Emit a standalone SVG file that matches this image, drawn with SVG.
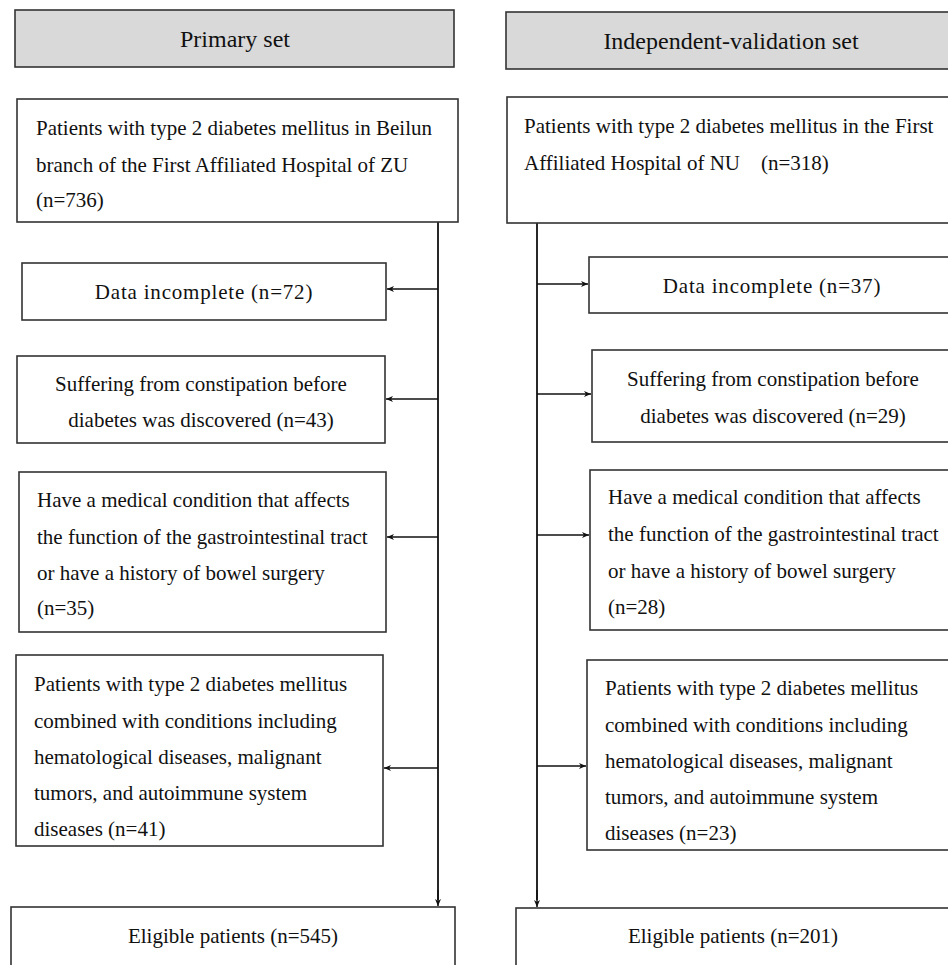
<svg xmlns="http://www.w3.org/2000/svg" width="948" height="965" viewBox="0 0 948 965">
<defs>
<marker id="ah" markerWidth="8" markerHeight="8" refX="7" refY="4" orient="auto" markerUnits="userSpaceOnUse">
<path d="M0,1 L7,4 L0,7 L2,4 Z" fill="#111"/>
</marker>
<style>
.hd{fill:#d9d9d9;stroke:#333;stroke-width:1.6}
.bx{fill:#fff;stroke:#333;stroke-width:1.6}
.t{font-family:"Liberation Serif","Times New Roman",serif;font-size:21px;fill:#111}
.h{font-family:"Liberation Serif","Times New Roman",serif;font-size:24px;fill:#111}
.c{text-anchor:middle}
.ls{letter-spacing:0.8px}
.ln{stroke:#111;stroke-width:1.8;fill:none}
.ar{stroke:#111;stroke-width:1.5;fill:none;marker-end:url(#ah)}
</style>
</defs>
<rect width="948" height="965" fill="#fff"/>

<g id="connectors">
<line class="ln" x1="438" y1="222" x2="438" y2="900"/>
<path class="ar" d="M438,890 L438,906"/>
<path class="ar" d="M438,289 L387,289"/>
<path class="ar" d="M438,399 L386,399"/>
<path class="ar" d="M438,537 L387,537"/>
<path class="ar" d="M438,768 L384,768"/>

<line class="ln" x1="537" y1="223" x2="537" y2="900"/>
<path class="ar" d="M537,890 L537,907"/>
<path class="ar" d="M537,284 L588,284"/>
<path class="ar" d="M537,394 L591,394"/>
<path class="ar" d="M537,535 L589,535"/>
<path class="ar" d="M537,766 L586,766"/>
</g>

<g id="h-primary">
<rect class="hd" x="15" y="10" width="439" height="57"/>
<text class="h c" x="235" y="47">Primary set</text>
</g>
<g id="h-validation">
<rect class="hd" x="506" y="12" width="450" height="57"/>
<text class="h c" x="731" y="49">Independent-validation set</text>
</g>

<g id="p1">
<rect class="bx" x="17" y="99" width="441" height="123"/>
<text class="t" x="36" y="135">Patients with type 2 diabetes mellitus in Beilun</text>
<text class="t" x="36" y="172">branch of the First Affiliated Hospital of ZU</text>
<text class="t" x="36" y="207">(n=736)</text>
</g>
<g id="p2">
<rect class="bx" x="22" y="263" width="364" height="57"/>
<text class="t c ls" x="204" y="299">Data incomplete (n=72)</text>
</g>
<g id="p3">
<rect class="bx" x="17" y="356" width="368" height="87"/>
<text class="t c" x="201" y="391">Suffering from constipation before</text>
<text class="t c" x="201" y="427">diabetes was discovered (n=43)</text>
</g>
<g id="p4">
<rect class="bx" x="19" y="472" width="367" height="160"/>
<text class="t" x="37" y="507">Have a medical condition that affects</text>
<text class="t" x="37" y="544">the function of the gastrointestinal tract</text>
<text class="t" x="37" y="580">or have a history of bowel surgery</text>
<text class="t" x="37" y="615">(n=35)</text>
</g>
<g id="p5">
<rect class="bx" x="16" y="655" width="367" height="191"/>
<text class="t" x="34" y="691">Patients with type 2 diabetes mellitus</text>
<text class="t" x="34" y="728">combined with conditions including</text>
<text class="t" x="34" y="764">hematological diseases, malignant</text>
<text class="t" x="34" y="800">tumors, and autoimmune system</text>
<text class="t" x="34" y="836">diseases (n=41)</text>
</g>
<g id="p6">
<rect class="bx" x="11" y="907" width="444" height="70"/>
<text class="t c" x="233" y="943">Eligible patients (n=545)</text>
</g>

<g id="v1">
<rect class="bx" x="507" y="97" width="450" height="126"/>
<text class="t" x="524" y="133">Patients with type 2 diabetes mellitus in the First</text>
<text class="t" x="524" y="170" xml:space="preserve">Affiliated Hospital of NU    (n=318)</text>
</g>
<g id="v2">
<rect class="bx" x="589" y="257" width="370" height="56"/>
<text class="t c ls" x="772" y="293">Data incomplete (n=37)</text>
</g>
<g id="v3">
<rect class="bx" x="592" y="350" width="370" height="92"/>
<text class="t c" x="773" y="386">Suffering from constipation before</text>
<text class="t c" x="773" y="423">diabetes was discovered (n=29)</text>
</g>
<g id="v4">
<rect class="bx" x="590" y="470" width="370" height="160"/>
<text class="t" x="608" y="504">Have a medical condition that affects</text>
<text class="t" x="608" y="541">the function of the gastrointestinal tract</text>
<text class="t" x="608" y="578">or have a history of bowel surgery</text>
<text class="t" x="608" y="614">(n=28)</text>
</g>
<g id="v5">
<rect class="bx" x="587" y="660" width="370" height="190"/>
<text class="t" x="605" y="695">Patients with type 2 diabetes mellitus</text>
<text class="t" x="605" y="732">combined with conditions including</text>
<text class="t" x="605" y="768">hematological diseases, malignant</text>
<text class="t" x="605" y="804">tumors, and autoimmune system</text>
<text class="t" x="605" y="840">diseases (n=23)</text>
</g>
<g id="v6">
<rect class="bx" x="516" y="908" width="440" height="70"/>
<text class="t c" x="733" y="943">Eligible patients (n=201)</text>
</g>
</svg>
